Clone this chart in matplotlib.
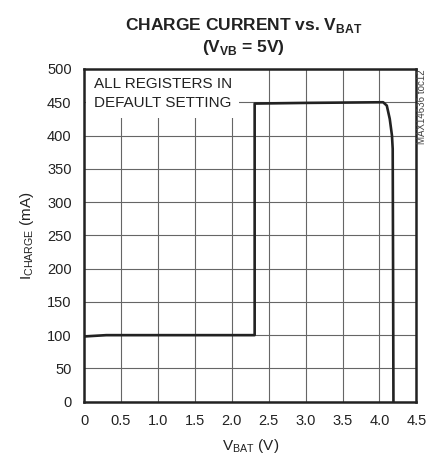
import matplotlib.pyplot as plt
import numpy as np

plt.rcParams['font.family'] = ['Liberation Sans', 'DejaVu Sans']
plt.rcParams['mathtext.fontset'] = 'custom'
plt.rcParams['mathtext.rm'] = 'Liberation Sans'
plt.rcParams['mathtext.bf'] = 'Liberation Sans:bold'

# Datos
vbat = [0.0, 0.3, 2.31, 2.31, 3.0, 4.05, 4.10, 4.14, 4.17, 4.18, 4.185, 4.19]
icharge = [98, 100, 100, 448, 449, 450, 445, 425, 400, 380, 200, 0]
xticks = [0, 0.5, 1.0, 1.5, 2.0, 2.5, 3.0, 3.5, 4.0, 4.5]
xticklabels = ["0", "0.5", "1.0", "1.5", "2.0", "2.5", "3.0", "3.5", "4.0", "4.5"]
yticks = np.arange(0, 501, 50)

fig = plt.figure(figsize=(4.27, 4.66), dpi=100)
ax = fig.add_axes([0.197, 0.138, 0.778, 0.714])

ax.plot(vbat, icharge, color="#222222", lw=1.9, zorder=3, solid_joinstyle="round")

ax.set_xlim(0, 4.5)
ax.set_ylim(0, 500)
ax.set_xticks(xticks)
ax.set_xticklabels(xticklabels)
ax.set_yticks(yticks)
ax.tick_params(length=0, labelsize=10.5, pad=9, colors="#222222")
ax.grid(True, color="#666666", lw=0.8)
for s in ax.spines.values():
    s.set_linewidth(1.8)
    s.set_color("#222222")
    s.set_zorder(6)

# Caja de texto
ax.text(0.13, 488, "ALL REGISTERS IN\nDEFAULT SETTING", fontsize=11, va="top",
        ha="left", color="#222222", linespacing=1.45, zorder=4,
        bbox=dict(boxstyle="square,pad=0.5", fc="white", ec="none"))

ax.set_xlabel(r"V$_{\mathrm{BAT}}$ (V)", fontsize=11, labelpad=6, color="#222222")
ax.set_ylabel(r"I$_{\mathrm{CHARGE}}$ (mA)", fontsize=11, labelpad=8, color="#222222")
ax.set_title("CHARGE CURRENT vs. V$_{\\mathbf{BAT}}$\n(V$_{\\mathbf{VB}}$ = 5V)",
             fontsize=12.5, fontweight="bold", color="#222222", pad=12, linespacing=1.25,
             x=0.48)

fig.text(0.988, 0.852, "MAX14636 toc12", rotation=90, fontsize=7, color="#444444",
         ha="center", va="top")

plt.savefig("out.png", dpi=100)
